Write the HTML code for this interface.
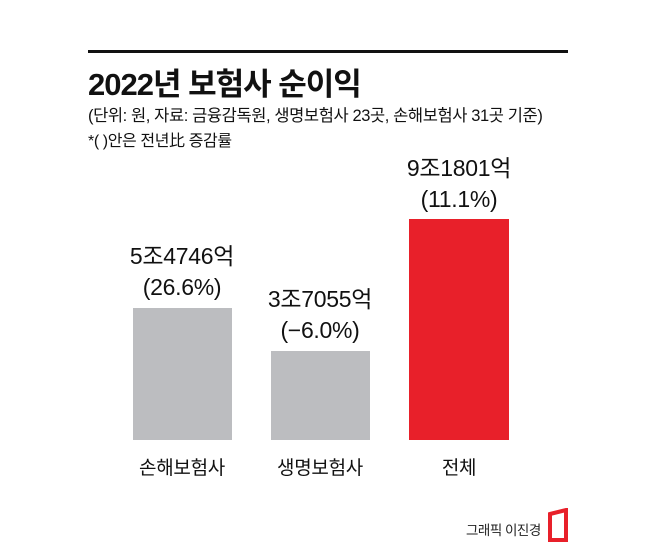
<!DOCTYPE html>
<html><head><meta charset="utf-8"><style>
body{margin:0;width:658px;height:552px;background:#fff;position:relative;overflow:hidden;font-family:"Liberation Sans","Noto Sans CJK KR",sans-serif;color:#111}
div{position:absolute;white-space:nowrap}
.c{text-align:center;width:160px;font-size:23px;line-height:31px;letter-spacing:-0.3px}
.bar{position:absolute}
.cat{text-align:center;width:160px;font-size:19px;letter-spacing:-0.3px}
</style></head><body>
<div style="left:88px;top:50px;width:480px;height:3px;background:#111"></div>
<div style="left:88px;top:59px;font-size:31px;font-weight:bold;letter-spacing:-1px">2022년 보험사 순이익</div>
<div style="left:88px;top:102px;font-size:16.5px;letter-spacing:-0.4px">(단위: 원, 자료: 금융감독원, 생명보험사 23곳, 손해보험사 31곳 기준)</div>
<div style="left:88px;top:127px;font-size:16px;letter-spacing:-0.4px">*( )안은 전년比 증감률</div>
<div class="bar" style="left:133px;top:308px;width:99px;height:132px;background:#bcbdc0"></div>
<div class="bar" style="left:271px;top:351px;width:99px;height:89px;background:#bcbdc0"></div>
<div class="bar" style="left:409px;top:219px;width:100px;height:221px;background:#e8202a"></div>
<div class="c" style="left:102px;top:241px">5조4746억<br>(26.6%)</div>
<div class="c" style="left:240px;top:284px">3조7055억<br>(−6.0%)</div>
<div class="c" style="left:379px;top:153px">9조1801억<br>(11.1%)</div>
<div class="cat" style="left:102px;top:453px">손해보험사</div>
<div class="cat" style="left:240px;top:453px">생명보험사</div>
<div class="cat" style="left:379px;top:453px">전체</div>
<div style="left:466px;top:519px;font-size:13.5px;letter-spacing:-0.5px;color:#222">그래픽 이진경</div>
<svg style="position:absolute;left:548px;top:508px" width="22" height="34"><path d="M2 6 L18 2 L18 32 L2 32 Z" fill="none" stroke="#e8202a" stroke-width="4"/></svg>
</body></html>
